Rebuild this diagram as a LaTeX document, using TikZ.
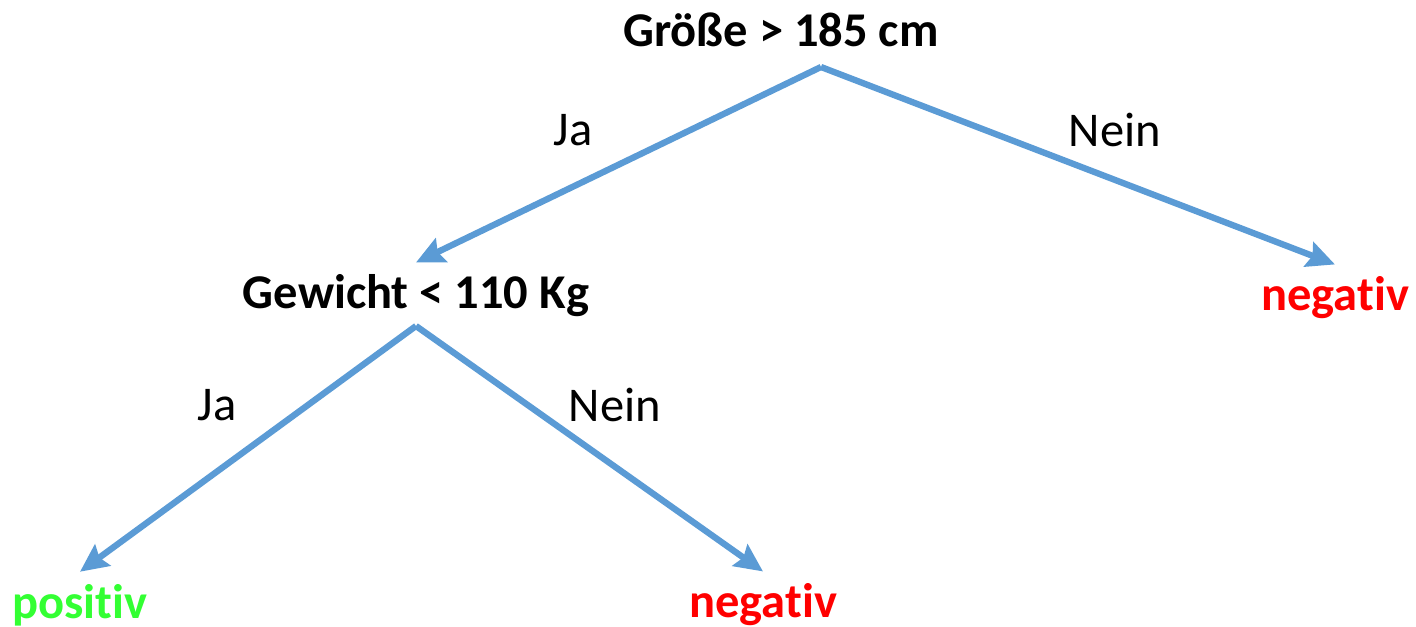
\documentclass[tikz,border=0pt]{standalone}
\usepackage{fontspec}
\setmainfont{Carlito}[RawFeature={-liga;-clig;-calt;-dlig}]
\usetikzlibrary{arrows.meta}
\definecolor{branch}{HTML}{5B9BD5}
\definecolor{yes}{HTML}{33FF33}
\definecolor{no}{HTML}{FF0000}

\begin{document}
\begin{tikzpicture}[every node/.style={align=center,font=\fontsize{13.8}{16}\selectfont},
  test/.style={font=\fontsize{13.8}{16}\selectfont\bfseries},
  leaf/.style={font=\fontsize{13.8}{16}\selectfont\bfseries},
  branchline/.style={line width=1.8pt,draw=branch,-{Stealth[length=2.8mm,width=2.6mm,inset=0.4mm]}}]
\useasboundingbox (0,0) rectangle (14.16,-6.27);
\node[test] (size) at (7.81,-0.30) {Größe > 185 cm};
\node[test] (weight) at (4.16,-2.96) {Gewicht < 110 Kg};
\node[leaf,text=no] (neg1) at (13.35,-2.98) {negativ};
\node[leaf,text=yes] (pos) at (0.80,-6.05) {positiv};
\node[leaf,text=no] (neg2) at (7.63,-6.05) {negativ};
\coordinate (sizefork) at (8.21,-0.67);
\coordinate (weightfork) at (4.16,-3.26);
% branches
\draw[branchline] (sizefork)--(weight.north);
\draw[branchline] (sizefork)--(neg1.north);
\draw[branchline] (weightfork)--(pos.north);
\draw[branchline] (weightfork)--(neg2.north);
\node (yes1) at (5.73,-1.30) {Ja};
\node (no1) at (11.15,-1.30) {Nein};
\node (yes2) at (2.17,-4.05) {Ja};
\node (no2) at (6.15,-4.05) {Nein};
\end{tikzpicture}
\end{document}
